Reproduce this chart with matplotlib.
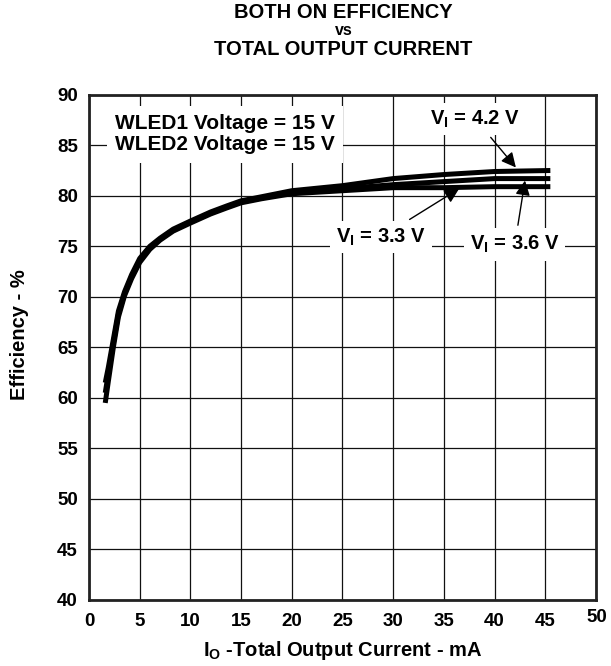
import numpy as np
import matplotlib
matplotlib.use('Agg')
import matplotlib.pyplot as plt

plt.rcParams['font.family'] = ['Liberation Sans', 'DejaVu Sans']
plt.rcParams['font.weight'] = 'bold'
plt.rcParams['mathtext.fontset'] = 'custom'
plt.rcParams['mathtext.rm'] = 'Liberation Sans:bold'
plt.rcParams['mathtext.default'] = 'rm'

# data
current = [1.6, 1.9, 2.4, 2.9, 3.5, 4.2, 5, 6, 7, 8.3, 10, 12, 13.6, 15, 17, 20, 25, 30, 35, 40, 45.5]
eff_33 = [59.5, 61.6, 65.0, 68.0, 70.1, 71.8, 73.4, 74.7, 75.6, 76.5, 77.3, 78.2, 78.8, 79.3, 79.7,
          80.2, 80.5, 80.8, 80.8, 80.9, 80.9]
eff_36 = [60.5, 62.4, 65.4, 68.3, 70.3, 72.0, 73.6, 74.8, 75.7, 76.6, 77.4, 78.3, 78.9, 79.4, 79.8,
          80.3, 80.7, 81.1, 81.4, 81.7, 81.7]
eff_42 = [61.5, 63.0, 65.8, 68.6, 70.5, 72.2, 73.8, 75.0, 75.8, 76.7, 77.5, 78.4, 79.0, 79.5, 79.9,
          80.5, 81.0, 81.7, 82.1, 82.4, 82.5]

x_ticks = [0, 5, 10, 15, 20, 25, 30, 35, 40, 45, 50]
y_ticks = [40, 45, 50, 55, 60, 65, 70, 75, 80, 85, 90]

fig = plt.figure(figsize=(6.11, 6.66), dpi=100)
ax = fig.add_axes([0.1457, 0.0991, 0.8297, 0.7587])

ax.set_xlim(0, 50)
ax.set_ylim(40, 90)
ax.set_xticks(x_ticks)
ax.set_yticks(y_ticks)
ax.set_xticklabels([str(t) for t in x_ticks[:-1]] + [''])
ax.tick_params(length=0, labelsize=13.5)
ax.tick_params(axis='x', pad=9.5)
ax.tick_params(axis='y', pad=8)
ax.text(50.1, 38.3, '50', fontsize=13.5, fontweight='bold', ha='center', va='center')
ax.grid(True, color='#111111', lw=0.9)
ax.set_axisbelow(True)
for s in ax.spines.values():
    s.set_linewidth(2)
    s.set_color('#222222')

for eff in (eff_33, eff_36, eff_42):
    ax.plot(current, eff, color='black', lw=3.6, solid_capstyle='butt', zorder=3)

ax.text(13.4, 86.1, 'WLED1 Voltage = 15 V\nWLED2 Voltage = 15 V', fontsize=15,
        ha='center', va='center', linespacing=1.15, zorder=4,
        bbox=dict(facecolor='white', edgecolor='none', pad=6))

box = dict(facecolor='white', edgecolor='none', pad=4)
arrow = dict(arrowstyle='-|>', color='black', lw=1, mutation_scale=22, shrinkA=2, shrinkB=0)
ax.annotate(r'V$_{I}$ = 4.2 V', xy=(42.1, 82.8), xytext=(38.1, 87.6), fontsize=14.5,
            ha='center', va='center', bbox=box, zorder=4, arrowprops=arrow)
ax.annotate(r'V$_{I}$ = 3.3 V', xy=(36.5, 80.7), xytext=(28.8, 75.9), fontsize=14.5,
            ha='center', va='center', bbox=box, zorder=4, arrowprops=arrow)
ax.annotate(r'V$_{I}$ = 3.6 V', xy=(43.0, 81.5), xytext=(42.0, 75.2), fontsize=14.5,
            ha='center', va='center', bbox=box, zorder=4, arrowprops=arrow)

fig.text(0.562, 0.9725, 'BOTH ON EFFICIENCY', fontsize=14.5, fontweight='bold', ha='center', va='baseline')
fig.text(0.562, 0.948, 'vs', fontsize=11.5, fontweight='bold', ha='center', va='baseline')
fig.text(0.562, 0.918, 'TOTAL OUTPUT CURRENT', fontsize=14.5, fontweight='bold', ha='center', va='baseline')

ax.set_ylabel('Efficiency - %', fontsize=14.5, fontweight='bold')
ax.yaxis.set_label_coords(-0.118, 0.525)
ax.set_xlabel(r'I$_{O}$ -Total Output Current - mA', fontsize=14.5, fontweight='bold', labelpad=6)

fig.savefig('out.png', dpi=100)
